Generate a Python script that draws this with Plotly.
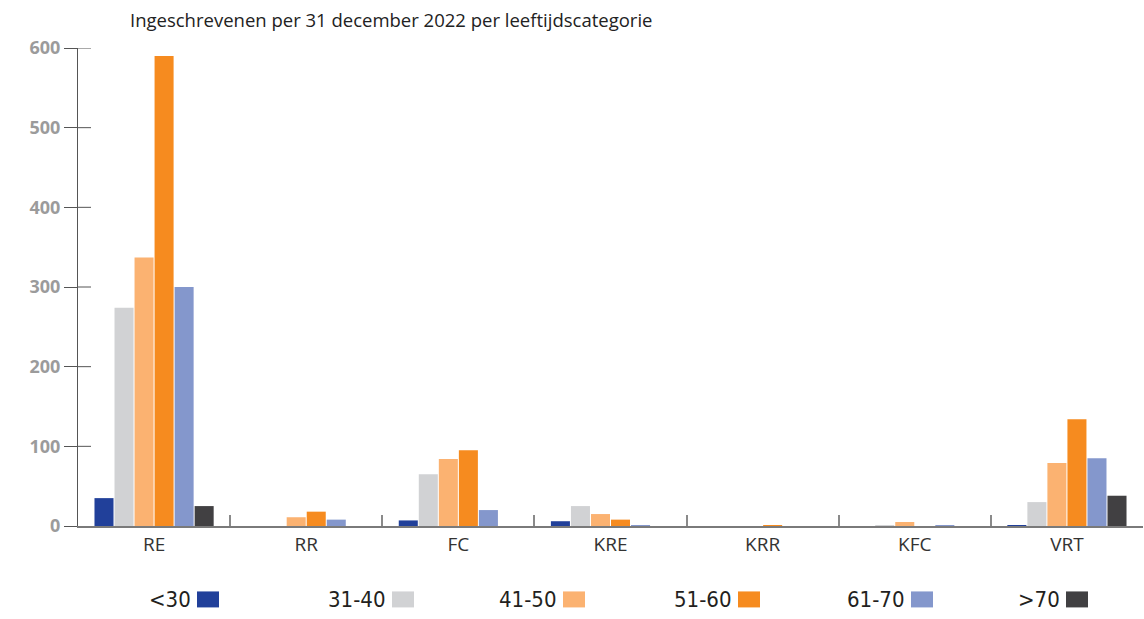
import plotly.graph_objects as go

categories = ["RE", "RR", "FC", "KRE", "KRR", "KFC", "VRT"]
series_names = ["<30", "31-40", "41-50", "51-60", "61-70", ">70"]
v_lt30 = [35, 0, 7, 6, 0, 0, 1]
v_31_40 = [274, 0, 65, 25, 0, 1, 30]
v_41_50 = [337, 11, 84, 15, 0, 5, 79]
v_51_60 = [590, 18, 95, 8, 1, 0, 134]
v_61_70 = [300, 8, 20, 1, 0, 1, 85]
v_gt70 = [25, 0, 0, 0, 0, 0, 38]
series_values = [v_lt30, v_31_40, v_41_50, v_51_60, v_61_70, v_gt70]
colors = ["#21409A", "#D1D2D4", "#FBB271", "#F68B1F", "#8497CC", "#414042"]
y_ticks = [0, 100, 200, 300, 400, 500, 600]
title_text = "Ingeschrevenen per 31 december 2022 per leeftijdscategorie"

W, H = 1144, 619
L, R, T, B = 78, 1, 48, 92.5

fig = go.Figure()
for name, vals, col in zip(series_names, series_values, colors):
    fig.add_trace(go.Bar(x=categories, y=vals, name=name, marker_color=col,
                         marker_line_width=0, showlegend=False))

fig.update_layout(
    width=W, height=H,
    margin=dict(l=L, r=R, t=T, b=B),
    paper_bgcolor="white", plot_bgcolor="white",
    barmode="group", bargap=0.21, bargroupgap=0.05,
    title=dict(text=title_text, xref="container", x=130 / W, xanchor="left",
               yref="container", y=1 - 21 / H, yanchor="middle",
               font=dict(family="Open Sans", size=18.5, color="#222222")),
    xaxis=dict(type="category", range=[-0.5, 6.5], showgrid=False,
               showline=True, linecolor="#7a7a7a", linewidth=1.5,
               ticks="inside", tickson="boundaries", ticklen=11,
               tickcolor="#8a8a8a", tickwidth=1.5,
               tickfont=dict(family="Open Sans", size=19, color="#333333")),
    yaxis=dict(range=[0, 600], tickvals=y_ticks, showgrid=False, zeroline=False,
               showline=True, linecolor="#555555", linewidth=1,
               ticks="outside", ticklen=13, tickcolor="#555555",
               tickfont=dict(family="Open Sans", size=18, color="#9b9b9b", weight="bold")),
)

plot_w = W - L - R
plot_h = H - T - B
def px_x(p):
    return (p - L) / plot_w
def px_y(p):
    return (H - B - p) / plot_h

# inner half of the crossing y-axis ticks
for tv in y_ticks[1:]:
    fig.add_shape(type="line", xref="paper", yref="y", x0=0, x1=13 / plot_w,
                  y0=tv, y1=tv, line=dict(color="#555555", width=1))

# custom legend: label text followed by colour square
legend_square_left = [197, 392, 563, 738, 911, 1066]
sq_w, sq_top, sq_bot = 22, 592, 608
for name, col, sx in zip(series_names, colors, legend_square_left):
    fig.add_shape(type="rect", xref="paper", yref="paper",
                  x0=px_x(sx), x1=px_x(sx + sq_w), y0=px_y(sq_bot), y1=px_y(sq_top),
                  fillcolor=col, line_width=0)
    fig.add_annotation(text=name, xref="paper", yref="paper",
                       x=px_x(sx - 4), y=px_y(600), xanchor="right", yanchor="middle",
                       showarrow=False,
                       font=dict(family="DejaVu Sans Condensed, Open Sans",
                                 size=22, color="#231f20"))

fig.write_html("out.html", config={"displayModeBar": False},
               post_script="document.body.style.margin='0';")
